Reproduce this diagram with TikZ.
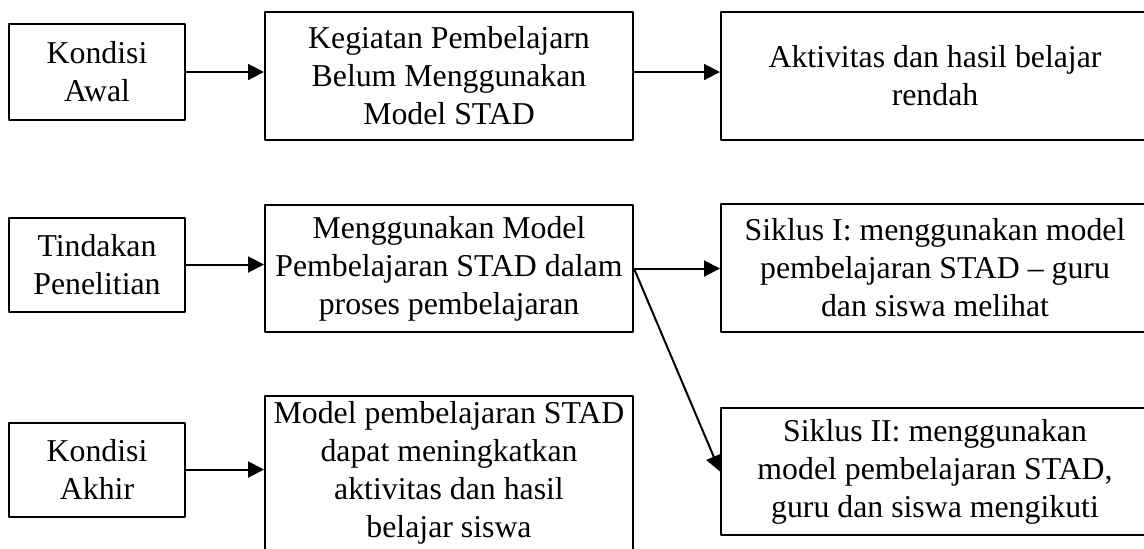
\documentclass[tikz,border=0pt]{standalone}
\usepackage{fontspec}
\setmainfont{Liberation Serif}
\usetikzlibrary{arrows.meta}
\begin{document}
\begin{tikzpicture}[x=0.5pt, y=-0.5pt, line join=round, font=\fontsize{15.9}{19}\selectfont,
	kotak/.style={draw, line width=1pt, align=center, inner sep=0pt},
	kecil/.style={kotak, minimum width=88pt, minimum height=47pt},
	tengah/.style={kotak, minimum width=184pt},
	kanan/.style={kotak, minimum width=214pt, minimum height=64pt},
	panah/.style={-{Triangle[length=8pt, width=8pt]}, line width=1pt}]
	\useasboundingbox (0,0) rectangle (1144,548);
	% baris pertama
	\node[kecil, minimum height=48pt] (awal) at (97,72) {Kondisi\\Awal};
	\node[tengah, minimum height=64pt] (kegiatan) at (449,76) {Kegiatan Pembelajarn\\Belum Menggunakan\\Model STAD};
	\node[kanan] (rendah) at (935,76) {Aktivitas dan hasil belajar\\rendah};
	% baris kedua
	\node[kecil] (tindakan) at (97,264.5) {Tindakan\\Penelitian};
	\node[tengah, minimum height=63.5pt] (model) at (449,268.5) {Menggunakan Model\\Pembelajaran STAD dalam\\proses pembelajaran};
	\node[kanan] (siklus1) at (935,268) {Siklus I: menggunakan model\\pembelajaran STAD – guru\\dan siswa melihat};
	% baris ketiga
	\node[kecil] (akhir) at (97,469.5) {Kondisi\\Akhir};
	\node[tengah, minimum height=77pt] (hasil) at (449,473) {Model pembelajaran STAD\\dapat meningkatkan\\aktivitas dan hasil\\belajar siswa};
	\node[kanan, minimum height=63.5pt] (siklus2) at (935,471.5) {Siklus II: menggunakan\\model pembelajaran STAD,\\guru dan siswa mengikuti};
	\draw[panah] (awal) -- (awal -| kegiatan.west);
	\draw[panah] (kegiatan.east |- awal) -- (awal -| rendah.west);
	\draw[panah] (tindakan) -- (tindakan -| model.west);
	\draw[panah] (model.east) -- (model.east -| siklus1.west);
	\draw[panah] (model.east) -- (siklus2.west);
	\draw[panah] (akhir) -- (akhir -| hasil.west);
\end{tikzpicture}
\end{document}
